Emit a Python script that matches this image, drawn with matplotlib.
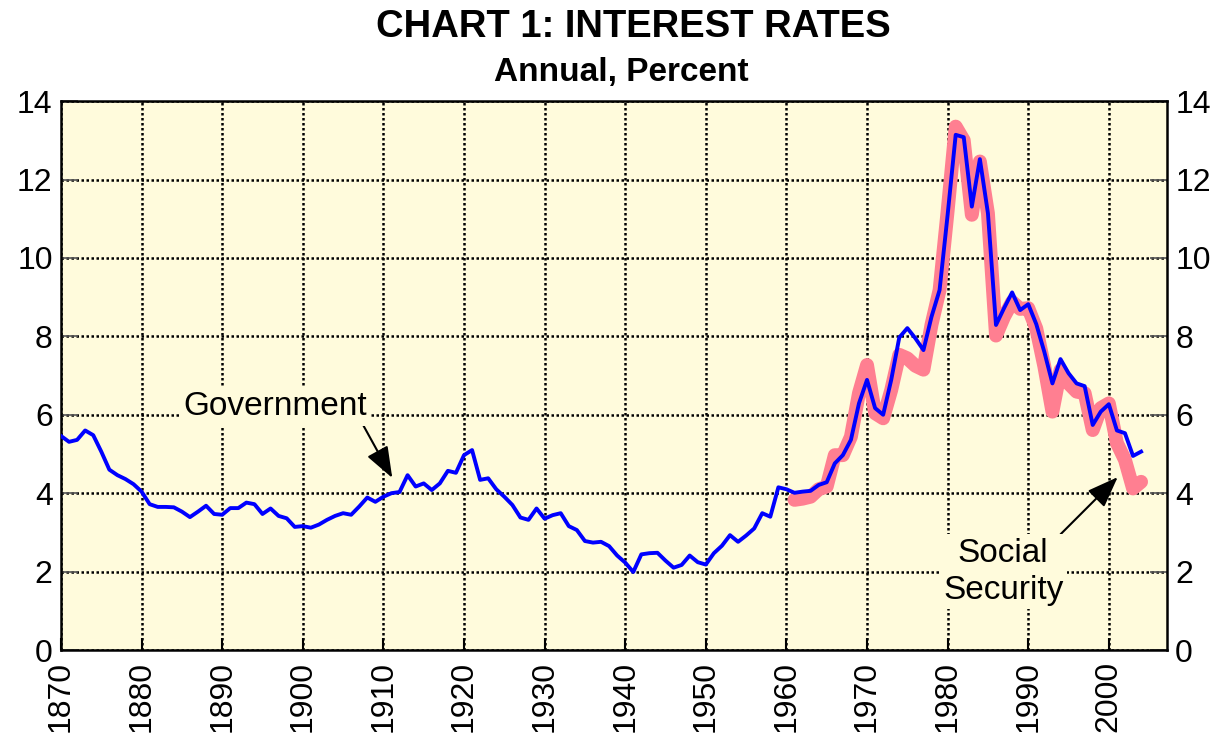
import numpy as np
import matplotlib.pyplot as plt

plt.rcParams['font.family'] = ['Liberation Sans', 'DejaVu Sans']

# Government interest rate, 1870-2004
gov_years = np.arange(1870, 2005)
gov_rate = [
    5.46, 5.31, 5.36, 5.60, 5.48, 5.06, 4.60, 4.46, 4.36, 4.23,  # 1870s
    4.04, 3.72, 3.65, 3.65, 3.64, 3.53, 3.39, 3.53, 3.68, 3.47,  # 1880s
    3.45, 3.62, 3.62, 3.76, 3.72, 3.47, 3.61, 3.42, 3.36, 3.14,  # 1890s
    3.16, 3.12, 3.20, 3.32, 3.42, 3.49, 3.45, 3.66, 3.89, 3.78,  # 1900s
    3.91, 4.00, 4.03, 4.46, 4.17, 4.25, 4.08, 4.25, 4.57, 4.52,  # 1910s
    4.97, 5.10, 4.34, 4.38, 4.10, 3.91, 3.70, 3.38, 3.32, 3.61,  # 1920s
    3.35, 3.44, 3.49, 3.16, 3.06, 2.78, 2.74, 2.76, 2.65, 2.41,  # 1930s
    2.23, 1.99, 2.44, 2.47, 2.48, 2.28, 2.10, 2.17, 2.41, 2.24,  # 1940s
    2.18, 2.47, 2.66, 2.93, 2.76, 2.92, 3.10, 3.49, 3.40, 4.15,  # 1950s
    4.10, 4.01, 4.04, 4.06, 4.21, 4.28, 4.76, 4.97, 5.36, 6.29,  # 1960s
    6.89, 6.17, 6.00, 6.89, 7.97, 8.21, 7.95, 7.65, 8.50, 9.18,  # 1970s
    11.1, 13.14, 13.08, 11.31, 12.52, 11.14, 8.29, 8.72, 9.12, 8.67,  # 1980s
    8.82, 8.31, 7.60, 6.80, 7.42, 7.06, 6.80, 6.73, 5.74, 6.08,  # 1990s
    6.27, 5.60, 5.53, 4.95, 5.06,  # 2000s
]

# Social Security interest rate, 1961-2004
ss_years = np.arange(1961, 2005)
ss_rate = [
    3.83, 3.86, 3.91, 4.10, 4.17, 4.97, 4.97, 5.44, 6.55,  # 1960s
    7.27, 6.04, 5.91, 6.63, 7.53, 7.44, 7.25, 7.15, 8.30, 9.18,  # 1970s
    11.2, 13.35, 13.0, 11.10, 12.46, 11.14, 8.02, 8.50, 8.88, 8.70,  # 1980s
    8.72, 8.20, 7.23, 6.08, 7.14, 6.80, 6.59, 6.55, 5.61, 6.17,  # 1990s
    6.29, 5.28, 4.85, 4.12, 4.29,  # 2000s
]

bg = '#FFFBDC'

fig = plt.figure(figsize=(12.27, 7.38), dpi=100)
ax = fig.add_axes([0.0497, 0.1192, 0.9013, 0.7438])
ax.set_facecolor(bg)

ax.plot(ss_years, ss_rate, color='#FF7F91', lw=10, solid_capstyle='round',
        solid_joinstyle='round', zorder=3)
ax.plot(gov_years, gov_rate, color='#0000FF', lw=2.8, zorder=4)

ax.set_xlim(1870, 2007.2)
ax.set_ylim(0, 14)
ax.set_xticks(np.arange(1870, 2001, 10))
ax.set_yticks(np.arange(0, 15, 2))
ax.grid(True, color='black', linestyle=(0, (1, 1)), lw=1.8, zorder=1)

ax.tick_params(axis='x', direction='in', length=9, width=1.5, labelsize=23,
               labelrotation=90, pad=8)
ax.tick_params(axis='y', direction='in', length=12, width=1.2, labelsize=23,
               left=True, right=True, labelleft=True, labelright=True,
               color='#555555', pad=6)
for sp in ax.spines.values():
    sp.set_linewidth(1.8)

arrow = dict(arrowstyle='-|>,head_length=0.8,head_width=0.3',
             color='black', lw=1.5, shrinkA=0, shrinkB=0)

ax.annotate('Government', xy=(1911.1, 4.39), xytext=(1896.6, 6.2),
            fontsize=24, ha='center', va='center', zorder=5,
            bbox=dict(boxstyle='square,pad=0.1', fc=bg, ec='none'),
            arrowprops=dict(arrow, relpos=(0.97, 0.0)))
ax.annotate('Social\nSecurity', xy=(2001.1, 4.41), xytext=(1986.9, 2.0),
            fontsize=24, ha='center', va='center', zorder=5,
            linespacing=1.25,
            bbox=dict(boxstyle='square,pad=0.1', fc=bg, ec='none'),
            arrowprops=dict(arrow, relpos=(0.92, 0.95)))

fig.text(0.516, 0.964, 'CHART 1: INTEREST RATES', ha='center', va='center',
         fontsize=27.5, fontweight='bold')
fig.text(0.506, 0.902, 'Annual, Percent', ha='center', va='center',
         fontsize=24, fontweight='bold')

fig.savefig('out.png', dpi=100)
